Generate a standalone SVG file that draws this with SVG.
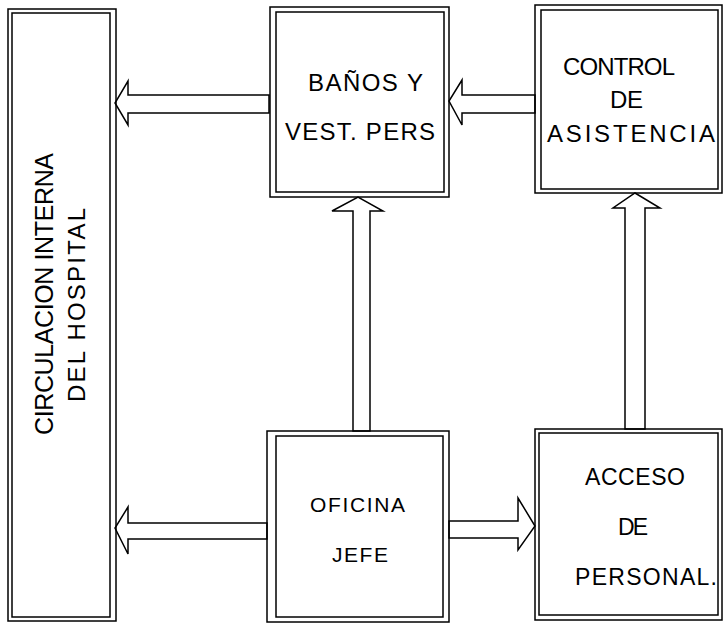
<svg xmlns="http://www.w3.org/2000/svg" width="723" height="624" viewBox="0 0 723 624">
<style>
.b{fill:none;stroke:#000;stroke-width:1.5}
.a{fill:#fff;stroke:#000;stroke-width:1.5;stroke-linejoin:miter}
.t{font-family:"Liberation Sans",Arial,sans-serif;font-size:24px;fill:#000}
</style>
<rect width="723" height="624" fill="#fff"/>
<g id="connectors">
<polygon class="a" points="269,95 128,95 128,81 115,103 128,125 128,113 269,113"/>
<polygon class="a" points="535,95 462,95 462,80 449,101 462,125 462,113 535,113"/>
<polygon class="a" points="353,431 353,211 332,211 358,197 383,211 370,211 370,431"/>
<polygon class="a" points="625,429 625,208 613,208 635,193 660,208 645,208 645,429"/>
<polygon class="a" points="449,521 518,521 518,498 535,526 518,550 518,538 449,538"/>
<polygon class="a" points="267,523 128,523 128,507 115,528 128,554 128,539 267,539"/>
</g>
<g id="circulacion">
<rect class="b" x="8" y="9" width="108" height="612"/>
<rect class="b" x="12" y="13" width="98" height="604"/>
<text class="t" transform="translate(53,435) rotate(-90)" textLength="282" lengthAdjust="spacing" style="font-size:25px">CIRCULACION INTERNA</text>
<text class="t" transform="translate(85,402) rotate(-90)" textLength="194" lengthAdjust="spacing" style="font-size:24px">DEL HOSPITAL</text>
</g>
<g id="banos">
<rect class="b" x="270" y="7" width="179" height="190"/>
<rect class="b" x="276" y="12" width="168" height="180"/>
<text class="t" x="308" y="91" textLength="115" lengthAdjust="spacing">BAÑOS Y</text>
<text class="t" x="285" y="140" textLength="150" lengthAdjust="spacing">VEST. PERS</text>
</g>
<g id="control">
<rect class="b" x="535" y="5" width="187" height="188"/>
<rect class="b" x="541" y="10" width="177" height="179"/>
<text class="t" x="563" y="75" textLength="112" lengthAdjust="spacing">CONTROL</text>
<text class="t" x="610" y="108" textLength="33" lengthAdjust="spacing">DE</text>
<text class="t" x="547" y="142" textLength="168" lengthAdjust="spacing">ASISTENCIA</text>
</g>
<g id="oficina">
<rect class="b" x="267" y="431" width="182" height="191"/>
<rect class="b" x="276" y="436" width="167" height="181"/>
<text class="t" x="310" y="512" textLength="95" lengthAdjust="spacing" style="font-size:21px">OFICINA</text>
<text class="t" x="332" y="562" textLength="56" lengthAdjust="spacing" style="font-size:21px">JEFE</text>
</g>
<g id="acceso">
<rect class="b" x="535" y="429" width="187" height="191"/>
<rect class="b" x="539" y="433" width="179" height="182"/>
<text class="t" x="585" y="485" textLength="100" lengthAdjust="spacing" style="font-size:23px">ACCESO</text>
<text class="t" x="618" y="535" textLength="30" lengthAdjust="spacing" style="font-size:23px">DE</text>
<text class="t" x="575" y="585" textLength="142" lengthAdjust="spacing" style="font-size:23px">PERSONAL.</text>
</g>
</svg>
